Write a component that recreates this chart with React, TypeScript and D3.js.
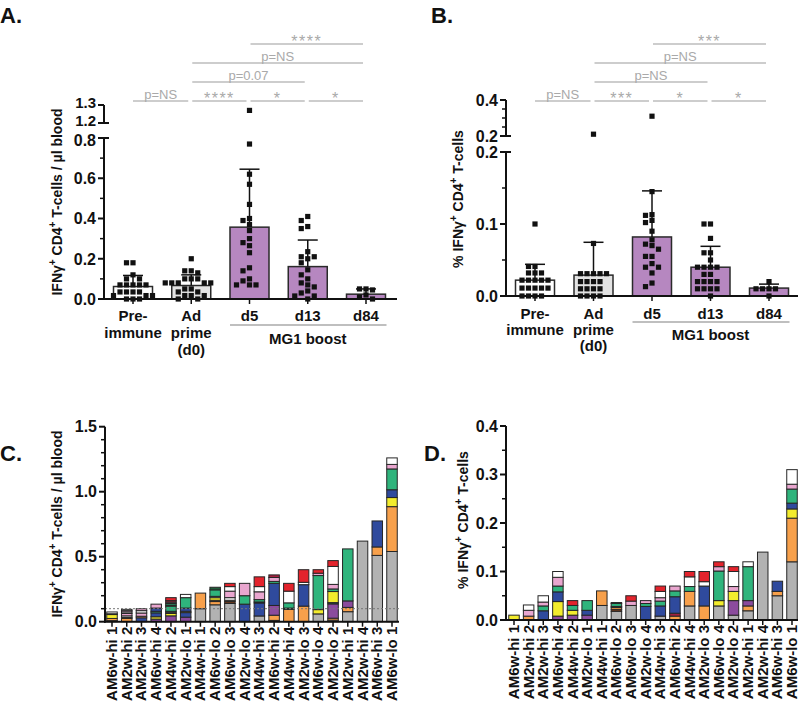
import React from "react";
import * as d3 from "d3";

const FONT = "'Liberation Sans', Arial, Helvetica, sans-serif";

// ---------- Panels A / B data ----------
const groupLines = [["Pre-", "immune"], ["Ad", "prime", "(d0)"], ["d5"], ["d13"], ["d84"]];
const groupFills = ["#ffffff", "#e3e3e3", "#b687c0", "#b687c0", "#b687c0"];

const countMeans = [0.062, 0.067, 0.357, 0.161, 0.024];
const countSD = [0.055, 0.053, 0.288, 0.132, 0.026];
const countPoints = [
  [0.18, 0.18, 0.12, 0.1, 0.1, 0.07, 0.07, 0.07, 0.07, 0.07, 0.035, 0.035, 0.035, 0.035, 0.017, 0.017, 0.017, 0, 0, 0],
  [0.2, 0.14, 0.14, 0.13, 0.1, 0.1, 0.1, 0.08, 0.08, 0.08, 0.08, 0.08, 0.05, 0.05, 0.035, 0.035, 0.017, 0.017, 0.017, 0, 0],
  [1.27, 0.77, 0.62, 0.57, 0.47, 0.4, 0.39, 0.37, 0.34, 0.3, 0.28, 0.265, 0.23, 0.155, 0.14, 0.1, 0.09, 0.07, 0.07, 0.07],
  [0.41, 0.39, 0.36, 0.35, 0.235, 0.21, 0.21, 0.2, 0.18, 0.145, 0.12, 0.1, 0.08, 0.07, 0.06, 0.04, 0.03, 0.015, 0.015, 0],
  [0.05, 0.05, 0.045, 0.02, 0.01, 0],
];
const countBrackets: [number, number, string, number][] = [
  [0, 1, "p=NS", 0], [1, 2, "****", 0], [2, 3, "*", 0], [3, 4, "*", 0],
  [1, 3, "p=0.07", 1], [1, 4, "p=NS", 2], [2, 4, "****", 3],
];
const countTicksLow = [0, 0.2, 0.4, 0.6, 0.8];
const countMinorLow = [0.1, 0.3, 0.5, 0.7];
const countTicksHigh = [1.2, 1.3];

const pctMeans = [0.022, 0.029, 0.082, 0.04, 0.011];
const pctSD = [0.022, 0.0456, 0.064, 0.029, 0.0055];
const pctPoints = [
  [0.1, 0.041, 0.041, 0.032, 0.032, 0.032, 0.022, 0.022, 0.022, 0.022, 0.022, 0.011, 0.011, 0.011, 0.011, 0.011, 0, 0, 0, 0],
  [0.21, 0.073, 0.031, 0.031, 0.031, 0.031, 0.031, 0.02, 0.02, 0.02, 0.02, 0.01, 0.01, 0.01, 0.01, 0, 0, 0, 0],
  [0.31, 0.145, 0.113, 0.112, 0.105, 0.102, 0.09, 0.078, 0.072, 0.07, 0.065, 0.055, 0.055, 0.045, 0.04, 0.04, 0.032, 0.018, 0.013],
  [0.1, 0.1, 0.08, 0.06, 0.06, 0.05, 0.04, 0.04, 0.04, 0.04, 0.03, 0.03, 0.02, 0.02, 0.02, 0.02, 0.01, 0.01, 0.01, 0.01, 0],
  [0.02, 0.01, 0.01, 0.01, 0.01, 0],
];
const pctBrackets: [number, number, string, number][] = [
  [0, 1, "p=NS", 0], [1, 2, "***", 0], [2, 3, "*", 0], [3, 4, "*", 0],
  [1, 3, "p=NS", 1], [1, 4, "p=NS", 2], [2, 4, "***", 3],
];
const pctTicksLow = [0, 0.1, 0.2];
const pctMinorLow = [0.05, 0.15];
const pctTicksHigh = [0.2, 0.4];
const pctMinorHigh = [0.25, 0.3, 0.35];

// ---------- Panels C / D data ----------
const animalLabels = [
  "AM6w-hi 1", "AM2w-hi 2", "AM2w-hi 3", "AM6w-hi 4", "AM4w-hi 2", "AM2w-lo 1", "AM4w-hi 1",
  "AM6w-lo 2", "AM6w-lo 3", "AM2w-lo 4", "AM4w-hi 3", "AM6w-hi 2", "AM4w-hi 4", "AM2w-lo 3",
  "AM6w-lo 4", "AM2w-lo 2", "AM2w-hi 1", "AM2w-hi 4", "AM6w-hi 3", "AM6w-lo 1",
];

const poolColors: Record<string, string> = {
  gray: "#b2b2b2", orange: "#f7a04b", brown: "#6b3a1e", purple: "#8b4b9d", yellow: "#f3ec2d",
  blue: "#2f4a9d", green: "#2fb47c", dkgreen: "#1f5e3a", pink: "#e9a6cf", white: "#ffffff",
  red: "#e3232c", maroon: "#a3213e",
};

type Seg = [string, number];
const countStacks: Seg[][] = [
  [["purple", 0.008], ["orange", 0.017], ["yellow", 0.03], ["brown", 0.006], ["white", 0.014]],
  [["orange", 0.025], ["yellow", 0.008], ["white", 0.012], ["pink", 0.018], ["white", 0.012], ["pink", 0.01], ["white", 0.01]],
  [["blue", 0.03], ["orange", 0.012], ["pink", 0.025], ["white", 0.018], ["pink", 0.015]],
  [["purple", 0.02], ["yellow", 0.018], ["blue", 0.03], ["green", 0.012], ["blue", 0.025], ["pink", 0.03]],
  [["purple", 0.045], ["yellow", 0.018], ["orange", 0.01], ["blue", 0.007], ["green", 0.04], ["brown", 0.008], ["green", 0.012], ["white", 0.01], ["maroon", 0.012], ["red", 0.023]],
  [["purple", 0.035], ["blue", 0.035], ["yellow", 0.01], ["blue", 0.025], ["green", 0.08], ["white", 0.025]],
  [["gray", 0.1], ["orange", 0.12]],
  [["gray", 0.13], ["orange", 0.025], ["brown", 0.01], ["yellow", 0.02], ["white", 0.01], ["green", 0.05], ["dkgreen", 0.02]],
  [["gray", 0.14], ["brown", 0.015], ["orange", 0.01], ["white", 0.02], ["pink", 0.05], ["white", 0.035], ["red", 0.025]],
  [["blue", 0.135], ["green", 0.065], ["pink", 0.095]],
  [["gray", 0.044], ["blue", 0.1], ["dkgreen", 0.008], ["green", 0.018], ["pink", 0.06], ["white", 0.04], ["red", 0.075]],
  [["gray", 0.01], ["orange", 0.04], ["purple", 0.075], ["blue", 0.17], ["green", 0.015], ["pink", 0.03], ["maroon", 0.02]],
  [["orange", 0.095], ["dkgreen", 0.01], ["green", 0.04], ["white", 0.09], ["red", 0.06]],
  [["orange", 0.12], ["blue", 0.165], ["white", 0.018], ["red", 0.097]],
  [["gray", 0.06], ["yellow", 0.033], ["green", 0.262], ["pink", 0.018], ["red", 0.027]],
  [["gray", 0.012], ["orange", 0.015], ["purple", 0.11], ["dkgreen", 0.01], ["yellow", 0.085], ["green", 0.02], ["pink", 0.035], ["white", 0.138], ["red", 0.045]],
  [["gray", 0.077], ["orange", 0.033], ["purple", 0.05], ["green", 0.4]],
  [["gray", 0.62]],
  [["gray", 0.51], ["orange", 0.065], ["blue", 0.2]],
  [["gray", 0.54], ["orange", 0.345], ["yellow", 0.07], ["blue", 0.06], ["green", 0.16], ["pink", 0.035], ["white", 0.05]],
];

const pctStacks: Seg[][] = [
  [["yellow", 0.01]],
  [["orange", 0.008], ["pink", 0.012], ["white", 0.011]],
  [["blue", 0.019], ["green", 0.01], ["pink", 0.008], ["white", 0.013]],
  [["purple", 0.008], ["yellow", 0.03], ["blue", 0.02], ["green", 0.012], ["pink", 0.018], ["white", 0.012]],
  [["purple", 0.01], ["yellow", 0.01], ["green", 0.01], ["red", 0.01]],
  [["purple", 0.01], ["blue", 0.01], ["green", 0.02]],
  [["gray", 0.03], ["orange", 0.03]],
  [["gray", 0.018], ["brown", 0.004], ["orange", 0.004], ["dkgreen", 0.002], ["green", 0.006], ["dkgreen", 0.002]],
  [["gray", 0.03], ["pink", 0.009], ["red", 0.011]],
  [["blue", 0.028], ["green", 0.006], ["pink", 0.006]],
  [["gray", 0.008], ["blue", 0.021], ["green", 0.01], ["pink", 0.007], ["white", 0.013], ["red", 0.011]],
  [["orange", 0.008], ["maroon", 0.006], ["blue", 0.034], ["green", 0.012], ["pink", 0.01]],
  [["gray", 0.029], ["orange", 0.03], ["green", 0.01], ["white", 0.02], ["red", 0.011]],
  [["orange", 0.029], ["blue", 0.041], ["white", 0.009], ["red", 0.021]],
  [["gray", 0.029], ["yellow", 0.011], ["green", 0.061], ["pink", 0.009], ["red", 0.01]],
  [["gray", 0.01], ["purple", 0.03], ["yellow", 0.019], ["pink", 0.01], ["white", 0.031], ["red", 0.01]],
  [["gray", 0.019], ["orange", 0.01], ["purple", 0.011], ["green", 0.07], ["white", 0.01]],
  [["gray", 0.14]],
  [["gray", 0.05], ["orange", 0.009], ["blue", 0.021]],
  [["gray", 0.12], ["orange", 0.09], ["yellow", 0.019], ["blue", 0.012], ["green", 0.029], ["pink", 0.01], ["white", 0.03]],
];

const countStackTicks = [0, 0.5, 1, 1.5];
const pctStackTicks = [0, 0.1, 0.2, 0.3, 0.4];

// ---------- helpers ----------
const fmt = d3.format(".1f");
const GRAY_TXT = "#a9a9a9";

function YTitle({ x, y, pct }: { x: number; y: number; pct: boolean }) {
  return (
    <text transform={`translate(${x},${y}) rotate(-90)`} textAnchor="middle" fontSize={14} fontWeight="bold" fill="#111">
      {pct ? "% IFNγ" : "IFNγ"}
      <tspan dy={-6} fontSize={10}>+</tspan>
      <tspan dy={6}>{" CD4"}</tspan>
      <tspan dy={-6} fontSize={10}>+</tspan>
      <tspan dy={6}>{pct ? " T-cells" : " T-cells / µl blood"}</tspan>
    </text>
  );
}

type SegAxis = {
  domain: [number, number];
  range: [number, number];
  major: number[];
  minor: number[];
};

function swarm(values: number[], yFn: (v: number) => number, cx: number) {
  const step = 6.5;
  const size = 5.6;
  const placed: { x: number; y: number }[] = [];
  const sorted = values.map((v) => ({ v, y: yFn(v) })).sort((a, b) => a.y - b.y);
  for (const p of sorted) {
    for (let k = 0; k < 30; k++) {
      const off = k === 0 ? 0 : (k % 2 === 1 ? -1 : 1) * Math.ceil(k / 2) * step;
      const x = cx + off;
      if (!placed.some((q) => Math.abs(q.x - x) < size && Math.abs(q.y - p.y) < size)) {
        placed.push({ x, y: p.y });
        break;
      }
    }
  }
  return placed;
}

function DotPanel(props: {
  axisX: number;
  axisEnd: number;
  centers: [number, number];
  segs: SegAxis[];
  means: number[];
  sds: number[];
  points: number[][];
  brackets: [number, number, string, number][];
  labelBase: number;
  lineH: number;
  mgLineY: number;
  mgTextY: number;
  tightBreak: boolean;
}) {
  const { axisX, axisEnd, centers, segs, means, sds, points, brackets, labelBase, lineH, mgLineY, mgTextY, tightBreak } = props;
  const scales = segs.map((s) => d3.scaleLinear().domain(s.domain).range(s.range));
  const yOf = (v: number) => {
    for (let i = 0; i < segs.length; i++) {
      if (v <= segs[i].domain[1] || i === segs.length - 1) return scales[i](v);
    }
    return scales[0](v);
  };
  const x = d3.scalePoint<number>().domain(d3.range(means.length)).range(centers);
  const bw = 39;
  const y0 = scales[0](0);
  const levelY = [101, 82, 63, 44];
  // label nudges / sizes near the axis break so texts don't collide
  const labelShift = (si: number, t: number, s: SegAxis) => {
    if (!tightBreak) return 0;
    if (si === 0 && t === s.domain[1]) return 2;
    if (si > 0 && t === s.domain[0]) return -2;
    if (si > 0 && t === s.domain[1]) return -2;
    return 0;
  };
  const labelSize = (si: number) => (tightBreak && si > 0 ? 15 : 16);
  return (
    <g>
      {means.map((m, i) => (
        <rect key={"b" + i} x={x(i)! - bw / 2} y={yOf(m)} width={bw} height={y0 - yOf(m)} fill={groupFills[i]} stroke="#2a2a2a" strokeWidth={1.5} />
      ))}
      {means.map((m, i) => {
        const top = yOf(m + sds[i]);
        return (
          <g key={"e" + i} stroke="#111" strokeWidth={1.5}>
            <line x1={x(i)} x2={x(i)} y1={yOf(m)} y2={top} />
            <line x1={x(i)! - 10} x2={x(i)! + 10} y1={top} y2={top} />
          </g>
        );
      })}
      {points.map((vals, i) =>
        swarm(vals, yOf, x(i)!).map((p, j) => (
          <rect key={"p" + i + "_" + j} x={p.x - 2.6} y={p.y - 2.6} width={5.2} height={5.2} fill="#111" />
        ))
      )}
      {segs.map((s, si) => {
        const sc = scales[si];
        return (
          <g key={"ax" + si} stroke="#111" strokeWidth={2}>
            <line x1={axisX} x2={axisX} y1={s.range[0] + (si === 0 ? 1 : 0)} y2={s.range[1]} />
            {s.major.map((t) => (
              <line key={"M" + t} x1={axisX - 6} x2={axisX + (t === s.domain[0] && si > 0 ? 5 : t === s.domain[1] && si < segs.length - 1 ? 5 : 0)} y1={sc(t)} y2={sc(t)} />
            ))}
            {s.minor.map((t) => (
              <line key={"m" + t} x1={axisX - 4} x2={axisX} y1={sc(t)} y2={sc(t)} strokeWidth={1.5} />
            ))}
          </g>
        );
      })}
      {segs.map((s, si) =>
        s.major.map((t) => (
          <text key={"t" + si + t} x={axisX - 8} y={scales[si](t) + labelShift(si, t, s)} dy="0.36em" textAnchor="end" fontSize={labelSize(si)} fontWeight="bold" fill="#111">
            {fmt(t)}
          </text>
        ))
      )}
      <line x1={axisX - 1} x2={axisEnd} y1={y0} y2={y0} stroke="#111" strokeWidth={2} />
      {means.map((_, i) => (
        <line key={"xt" + i} x1={x(i)} x2={x(i)} y1={y0} y2={y0 + 5} stroke="#111" strokeWidth={1.5} />
      ))}
      {groupLines.map((lines, i) => (
        <text key={"gl" + i} x={x(i)} textAnchor="middle" fontSize={15} fontWeight="bold" fill="#111">
          {lines.map((l, j) => (
            <tspan key={j} x={x(i)} y={labelBase + j * lineH}>{l}</tspan>
          ))}
        </text>
      ))}
      <line x1={x(2)! - bw / 2} x2={x(4)! + bw / 2 + 1} y1={mgLineY} y2={mgLineY} stroke="#aaa" strokeWidth={1.3} />
      <text x={x(3)} y={mgTextY} textAnchor="middle" fontSize={15} fontWeight="bold" fill="#111">MG1 boost</text>
      {brackets.map(([a, b, lab, lev], k) => {
        const ly = levelY[lev];
        const x1 = x(a)! + (a === 0 ? 0 : 1);
        const x2 = x(b)! - 3;
        const stars = lab.startsWith("*");
        return (
          <g key={"br" + k}>
            <line x1={x1} x2={x2} y1={ly} y2={ly} stroke="#bdbdbd" strokeWidth={1.4} />
            <text x={(x1 + x2) / 2} y={stars ? ly + 2.5 : ly - 2.3} textAnchor="middle" fontSize={stars ? 16 : 13} letterSpacing={stars ? 1.5 : 0} fill={GRAY_TXT}>
              {lab}
            </text>
          </g>
        );
      })}
    </g>
  );
}

function StackPanel(props: {
  axisX: number;
  axisEnd: number;
  y0: number;
  yTop: number;
  yMax: number;
  ticks: number[];
  minorStep: number;
  centers: [number, number];
  stacks: Seg[][];
  dotted: boolean;
}) {
  const { axisX, axisEnd, y0, yTop, yMax, ticks, minorStep, centers, stacks, dotted } = props;
  const y = d3.scaleLinear().domain([0, yMax]).range([y0, yTop]);
  const x = d3.scalePoint<string>().domain(animalLabels).range(centers);
  const bw = 10.5;
  const minors = d3.range(0, yMax + 1e-9, minorStep).filter((v) => !ticks.some((t) => Math.abs(t - v) < 1e-9));
  return (
    <g>
      {stacks.map((segs, i) => {
        const cum = [0, ...Array.from(d3.cumsum(segs.map((s) => s[1])))];
        const cx = x(animalLabels[i])!;
        return (
          <g key={"s" + i}>
            {segs.map((s, j) => (
              <rect key={j} x={cx - bw / 2} y={y(cum[j + 1])} width={bw} height={Math.max(0, y(cum[j]) - y(cum[j + 1]))} fill={poolColors[s[0]]} stroke="#262626" strokeWidth={1} />
            ))}
          </g>
        );
      })}
      {dotted && (
        <line x1={axisX} x2={axisEnd} y1={y(0.1)} y2={y(0.1)} stroke="#777" strokeWidth={1} strokeDasharray="2,2" />
      )}
      <g stroke="#111">
        <line x1={axisX} x2={axisX} y1={y0 + 1} y2={yTop} strokeWidth={2} />
        {ticks.map((t) => (
          <line key={"M" + t} x1={axisX - 6} x2={axisX} y1={y(t)} y2={y(t)} strokeWidth={2} />
        ))}
        {minors.map((t) => (
          <line key={"m" + t} x1={axisX - 4} x2={axisX} y1={y(t)} y2={y(t)} strokeWidth={1.5} />
        ))}
        <line x1={axisX - 1} x2={axisEnd} y1={y0} y2={y0} strokeWidth={2} />
        {animalLabels.map((l) => (
          <line key={"xt" + l} x1={x(l)} x2={x(l)} y1={y0} y2={y0 + 5} strokeWidth={1.5} />
        ))}
      </g>
      {ticks.map((t) => (
        <text key={"tl" + t} x={axisX - 8} y={y(t)} dy="0.36em" textAnchor="end" fontSize={16} fontWeight="bold" fill="#111">
          {fmt(t)}
        </text>
      ))}
      {animalLabels.map((l) => (
        <text key={"xl" + l} transform={`translate(${x(l)! + 5},${y0 + 5}) rotate(-90)`} textAnchor="end" fontSize={15} fontWeight="bold" fill="#111">
          {l}
        </text>
      ))}
    </g>
  );
}

export default function App() {
  const countSegs: SegAxis[] = [
    { domain: [0, 0.8], range: [299, 138], major: countTicksLow, minor: countMinorLow },
    { domain: [1.2, 1.3], range: [123, 105], major: countTicksHigh, minor: [] },
  ];
  const pctSegs: SegAxis[] = [
    { domain: [0, 0.2], range: [296, 152], major: pctTicksLow, minor: pctMinorLow },
    { domain: [0.2, 0.4], range: [136, 100], major: pctTicksHigh, minor: pctMinorHigh },
  ];
  return (
    <svg width={800} height={709} viewBox="0 0 800 709" style={{ position: "absolute", left: 0, top: 0, background: "#fff" }} fontFamily={FONT}>
      <rect width={800} height={709} fill="#fff" />
      <text x={0} y={23} fontSize={22} fontWeight="bold" fill="#111">A.</text>
      <text x={431} y={23} fontSize={22} fontWeight="bold" fill="#111">B.</text>
      <text x={0} y={461} fontSize={22} fontWeight="bold" fill="#111">C.</text>
      <text x={424} y={461} fontSize={22} fontWeight="bold" fill="#111">D.</text>

      <YTitle x={62} y={202} pct={false} />
      <YTitle x={463} y={199} pct={true} />
      <YTitle x={62} y={524} pct={false} />
      <YTitle x={468} y={520} pct={true} />

      <DotPanel axisX={104} axisEnd={397} centers={[133, 366]} segs={countSegs} means={countMeans} sds={countSD}
        points={countPoints} brackets={countBrackets} labelBase={321} lineH={17} mgLineY={325} mgTextY={344} tightBreak={true} />
      <DotPanel axisX={506} axisEnd={798} centers={[535, 769]} segs={pctSegs} means={pctMeans} sds={pctSD}
        points={pctPoints} brackets={pctBrackets} labelBase={319} lineH={16} mgLineY={322} mgTextY={340} tightBreak={false} />

      <StackPanel axisX={105} axisEnd={399} y0={621.7} yTop={426.7} yMax={1.5} ticks={countStackTicks} minorStep={0.1}
        centers={[112, 392]} stacks={countStacks} dotted={true} />
      <StackPanel axisX={506} axisEnd={798} y0={620} yTop={426} yMax={0.4} ticks={pctStackTicks} minorStep={0.05}
        centers={[514, 792]} stacks={pctStacks} dotted={false} />
    </svg>
  );
}
